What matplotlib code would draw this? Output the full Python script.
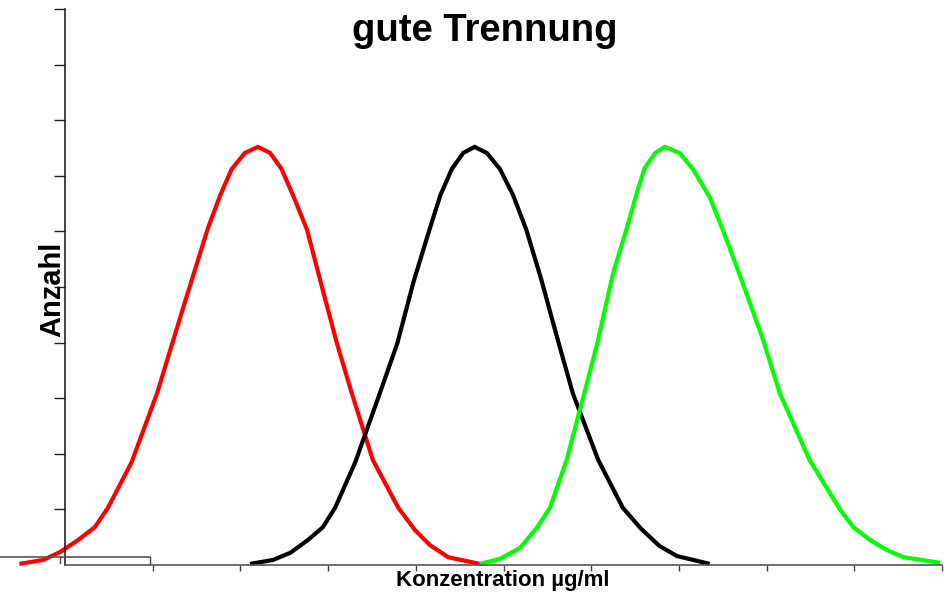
import matplotlib.pyplot as plt
from matplotlib.lines import Line2D

plt.rcParams["font.family"] = ["Liberation Sans", "DejaVu Sans"]

# Kurvenpunkte, x = Konzentration, y = Anzahl
red_x = [-0.52, -0.25, -0.06, 0.15, 0.34, 0.49, 0.76, 1.05, 1.35, 1.63, 1.77, 1.90, 2.05, 2.20,
         2.34, 2.47, 2.60, 2.76, 2.93, 3.10, 3.27, 3.51, 3.80, 3.99, 4.16, 4.37, 4.73]
red_y = [0.02, 0.09, 0.23, 0.45, 0.68, 1.03, 1.85, 3.09, 4.64, 6.06, 6.65, 7.12, 7.41, 7.52,
         7.41, 7.12, 6.65, 6.03, 5.00, 3.99, 3.09, 1.89, 1.03, 0.63, 0.36, 0.14, 0.02]

black_x = [2.11, 2.37, 2.57, 2.77, 2.94, 3.08, 3.31, 3.59, 3.79, 3.97, 4.13, 4.28, 4.41, 4.54,
           4.67, 4.81, 4.96, 5.11, 5.26, 5.43, 5.61, 5.79, 6.08, 6.36, 6.57, 6.78, 6.98, 7.35]
black_y = [0.02, 0.09, 0.22, 0.45, 0.68, 1.03, 1.85, 3.09, 3.99, 5.07, 5.90, 6.65, 7.12, 7.41,
           7.52, 7.41, 7.12, 6.65, 6.03, 5.14, 4.10, 3.09, 1.89, 1.03, 0.65, 0.34, 0.16, 0.02]

green_x = [4.73, 4.96, 5.19, 5.38, 5.53, 5.72, 5.91, 6.07, 6.25, 6.41, 6.52, 6.61, 6.73, 6.84,
           7.01, 7.16, 7.35, 7.50, 7.66, 7.81, 7.96, 8.15, 8.49, 8.84, 8.99, 9.18, 9.37, 9.56, 9.98]
green_y = [0.02, 0.11, 0.31, 0.67, 1.03, 1.89, 3.02, 3.99, 5.25, 6.08, 6.69, 7.14, 7.41, 7.52,
           7.41, 7.12, 6.62, 6.03, 5.36, 4.71, 4.05, 3.09, 1.89, 0.99, 0.68, 0.45, 0.27, 0.14, 0.04]

x_ticks = [1, 2, 3, 4, 5, 6, 7, 8, 9, 10]
y_ticks = [1, 2, 3, 4, 5, 6, 7, 8, 9, 10]

W, H = 946, 595
fig = plt.figure(figsize=(W / 100, H / 100), dpi=100)
ax = fig.add_axes([65 / W, 30 / H, 877 / W, 556 / H])

for xs, ys, col in [(red_x, red_y, "#ff0000"), (black_x, black_y, "#000000"),
                    (green_x, green_y, "#00ff00")]:
    ax.plot(xs, ys, color=col, lw=3.0, clip_on=False, solid_capstyle="butt",
            solid_joinstyle="miter")

ax.set_xlim(0, 10)
ax.set_ylim(0, 10)
ax.set_xticks(x_ticks)
ax.set_yticks(y_ticks)
ax.set_xticklabels([])
ax.set_yticklabels([])
ax.tick_params(axis="x", direction="out", length=4.5, width=1, color="#444444")
ax.tick_params(axis="y", direction="out", length=8, width=1, color="#222222")
for s in ["top", "right"]:
    ax.spines[s].set_visible(False)
ax.spines["bottom"].set_color("#555555")
ax.spines["left"].set_color("#222222")
ax.spines["bottom"].set_linewidth(1.2)
ax.spines["left"].set_linewidth(1.2)

# kleine zweite Achse unten links
fig.add_artist(Line2D([0, 150 / W], [1 - 557 / H] * 2, color="#555555", lw=1.2))
fig.add_artist(Line2D([150 / W] * 2, [1 - 557 / H, 1 - 564 / H], color="#444444", lw=1))
fig.add_artist(Line2D([60 / W] * 2, [1 - 557 / H, 1 - 563 / H], color="#444444", lw=1))

fig.text(484.5 / W, 1 - 41 / H, "gute Trennung", ha="center", va="baseline",
         fontsize=27.5, fontweight="bold")
fig.text(502.5 / W, 1 - 586 / H, "Konzentration µg/ml", ha="center", va="baseline",
         fontsize=16, fontweight="bold")
fig.text(60 / W, 1 - 289 / H, "Anzahl", rotation=90, rotation_mode="anchor",
         ha="center", va="baseline", fontsize=21, fontweight="bold")

fig.savefig("out.png", dpi=100)
